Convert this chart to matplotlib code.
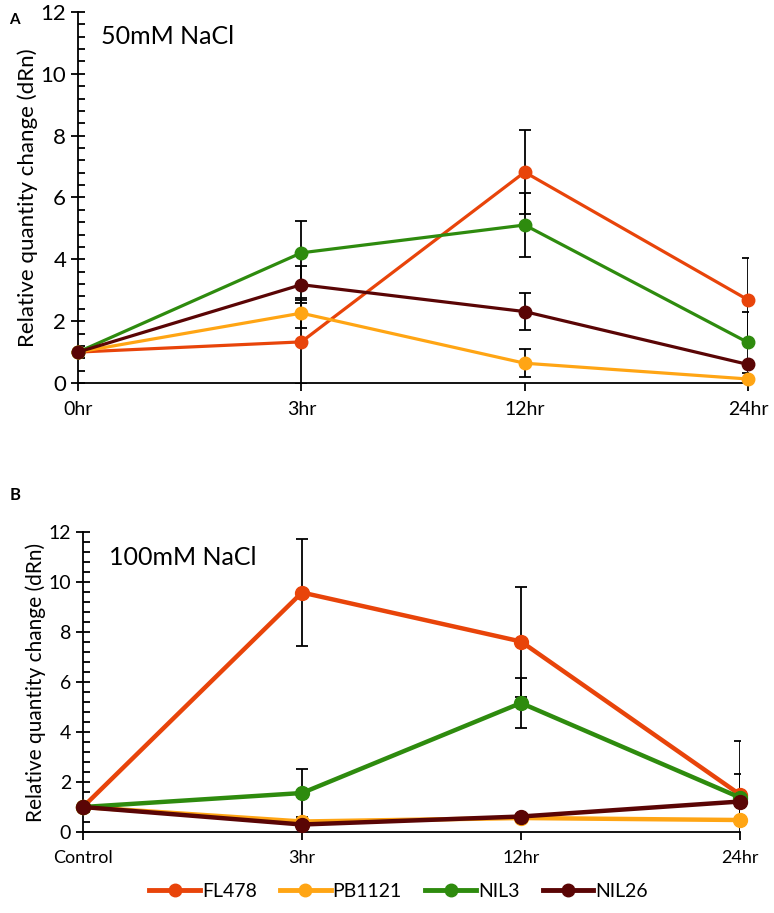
import matplotlib
matplotlib.use('Agg')
import matplotlib.pyplot as plt
from matplotlib.ticker import MultipleLocator
from matplotlib.lines import Line2D

plt.rcParams['font.family'] = ['Lato', 'DejaVu Sans']

series = ['FL478', 'PB1121', 'NIL3', 'NIL26']
colors = ['#E8440A', '#FFA514', '#2E8B0E', '#5A0505']

# panel A: 50mM NaCl
times_a = ['0hr', '3hr', '12hr', '24hr']
vals_a = {
    'FL478': [1.0, 1.33, 6.82, 2.69],
    'PB1121': [1.0, 2.26, 0.64, 0.13],
    'NIL3': [1.0, 4.21, 5.11, 1.31],
    'NIL26': [1.0, 3.18, 2.31, 0.60],
}
err_a = {
    'FL478': [0, 1.35, 1.35, 1.35],
    'PB1121': [0, 0.48, 0.45, 0.0],
    'NIL3': [0, 1.02, 1.03, 1.0],
    'NIL26': [0, 0.60, 0.60, 0.0],
}

# panel B: 100mM NaCl
times_b = ['Control', '3hr', '12hr', '24hr']
vals_b = {
    'FL478': [1.0, 9.58, 7.62, 1.50],
    'PB1121': [1.0, 0.42, 0.56, 0.48],
    'NIL3': [1.0, 1.56, 5.16, 1.38],
    'NIL26': [1.0, 0.30, 0.62, 1.22],
}
err_b = {
    'FL478': [0, 2.15, 2.2, 2.15],
    'PB1121': [0, 0.0, 0.0, 0.0],
    'NIL3': [0, 0.97, 1.0, 0.95],
    'NIL26': [0, 0.0, 0.0, 0.0],
}

fig = plt.figure(figsize=(7.74, 9.13), dpi=100)
ax_a = fig.add_axes([0.1008, 0.5805, 0.8656, 0.4064])
ax_b = fig.add_axes([0.1072, 0.0887, 0.8488, 0.3286])


def draw_panel(ax, times, vals, errs, lw, ms, ytick_fs, xtick_fs, label_fs, title, title_xy):
    x = list(range(len(times)))
    for name, c in zip(series, colors):
        ax.errorbar(x, vals[name], yerr=errs[name], fmt='none', ecolor='black',
                    elinewidth=1.3, capsize=4, capthick=1.3, zorder=2, clip_on=True)
    for name, c in zip(series, colors):
        ax.plot(x, vals[name], color=c, lw=lw, marker='o', ms=ms, zorder=3,
                clip_on=False)
    ax.set_xlim(0, len(times) - 1)
    ax.set_ylim(0, 12)
    ax.set_xticks(x)
    ax.set_xticklabels(times)
    ax.yaxis.set_major_locator(MultipleLocator(2))
    ax.yaxis.set_minor_locator(MultipleLocator(0.4))
    for s in ['top', 'right']:
        ax.spines[s].set_visible(False)
    for s in ['left', 'bottom']:
        ax.spines[s].set_linewidth(1.3)
    ax.tick_params(axis='y', which='major', direction='inout', length=10, width=1.3,
                   labelsize=ytick_fs)
    ax.tick_params(axis='y', which='minor', direction='in', length=5, width=1.3)
    ax.tick_params(axis='x', which='major', direction='out', length=6, width=1.3,
                   labelsize=xtick_fs, pad=7)
    ax.set_ylabel('Relative quantity change (dRn)', fontsize=label_fs, labelpad=2)
    ax.text(title_xy[0], title_xy[1], title, transform=ax.transAxes, fontsize=18,
            va='center', ha='left')


draw_panel(ax_a, times_a, vals_a, err_a, 2.3, 9, 16, 14, 16, '50mM NaCl', (0.035, 0.935))
draw_panel(ax_b, times_b, vals_b, err_b, 3.2, 10, 14, 13, 15, '100mM NaCl', (0.04, 0.915))

fig.text(0.012, 0.978, 'A', fontsize=11, fontweight='bold', va='center')
fig.text(0.012, 0.458, 'B', fontsize=12, fontweight='bold', va='center')

handles = [Line2D([0], [0], color=c, lw=3.5, marker='o', ms=9) for c in colors]
fig.legend(handles, series, loc='center', bbox_to_anchor=(0.515, 0.024), ncol=4,
           frameon=False, fontsize=14, handlelength=2.6, handletextpad=0.1,
           columnspacing=1.2)

fig.savefig('out.png', dpi=100)
